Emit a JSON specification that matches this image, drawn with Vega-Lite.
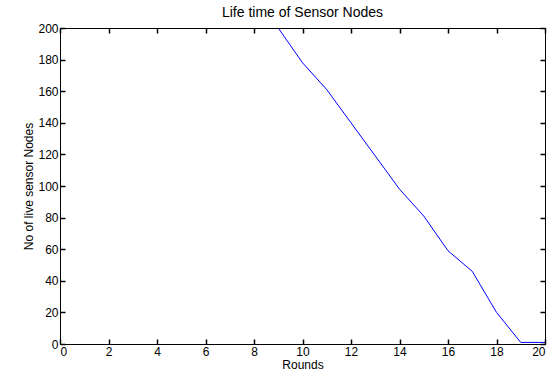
{
  "$schema": "https://vega.github.io/schema/vega-lite/v6.json",
  "width": 485,
  "height": 316,
  "autosize": {"type": "none"},
  "padding": {"left": 60, "top": 28, "right": 7, "bottom": 36},
  "background": "white",
  "config": {
    "font": "Liberation Sans",
    "view": {"stroke": "black", "strokeWidth": 1},
    "axis": {"grid": false, "labelColor": "black", "titleColor": "black", "labelFontSize": 12, "titleFontSize": 12, "titleFontWeight": "normal", "labelFont": "Liberation Sans", "titleFont": "Liberation Sans"}
  },
  "title": {"text": "Life time of Sensor Nodes", "fontSize": 14, "fontWeight": "normal", "font": "Liberation Sans", "color": "black", "offset": 2, "anchor": "middle"},
  "data": {"values": [
    {"round": 1, "alive": 200},
    {"round": 2, "alive": 200},
    {"round": 3, "alive": 200},
    {"round": 4, "alive": 200},
    {"round": 5, "alive": 200},
    {"round": 6, "alive": 200},
    {"round": 7, "alive": 200},
    {"round": 8, "alive": 200},
    {"round": 9, "alive": 200},
    {"round": 10, "alive": 178},
    {"round": 11, "alive": 161},
    {"round": 12, "alive": 140},
    {"round": 13, "alive": 119},
    {"round": 14, "alive": 98},
    {"round": 15, "alive": 81},
    {"round": 16, "alive": 59},
    {"round": 17, "alive": 46},
    {"round": 18, "alive": 20},
    {"round": 19, "alive": 1},
    {"round": 20, "alive": 1}
  ]},
  "layer": [
    {
      "mark": {"type": "line", "color": "#0000FF", "strokeWidth": 1, "clip": true},
      "encoding": {
        "x": {"field": "round", "type": "quantitative", "scale": {"domain": [0, 20], "nice": false, "zero": false}, "axis": {"values": [0,2,4,6,8,10,12,14,16,18,20], "title": "Rounds", "labelPadding": 7, "titlePadding": 2, "domainColor": "black", "tickSize": -5, "tickWidth": 1.5, "tickColor": "#000000", "zindex": 1}},
        "y": {"field": "alive", "type": "quantitative", "scale": {"domain": [0, 200], "nice": false}, "axis": {"values": [0,20,40,60,80,100,120,140,160,180,200], "title": "No of live sensor Nodes", "labelPadding": 7, "titlePadding": 2, "domainColor": "black", "tickSize": -5, "tickWidth": 1.5, "tickColor": "#000000", "zindex": 1}}
      }
    },
    {
      "mark": {"type": "line", "opacity": 0},
      "encoding": {
        "x": {"field": "round", "type": "quantitative", "scale": {"domain": [0, 20], "nice": false, "zero": false}, "axis": {"orient": "top", "values": [0,2,4,6,8,10,12,14,16,18,20], "labels": false, "title": null, "domainColor": "black", "tickSize": -5, "tickWidth": 1.5, "tickColor": "#000000", "zindex": 1}},
        "y": {"field": "alive", "type": "quantitative", "scale": {"domain": [0, 200], "nice": false}, "axis": {"orient": "right", "values": [0,20,40,60,80,100,120,140,160,180,200], "labels": false, "title": null, "domainColor": "black", "tickSize": -5, "tickWidth": 1.5, "tickColor": "#000000", "zindex": 1}}
      }
    }
  ],
  "resolve": {"axis": {"x": "independent", "y": "independent"}}
}
